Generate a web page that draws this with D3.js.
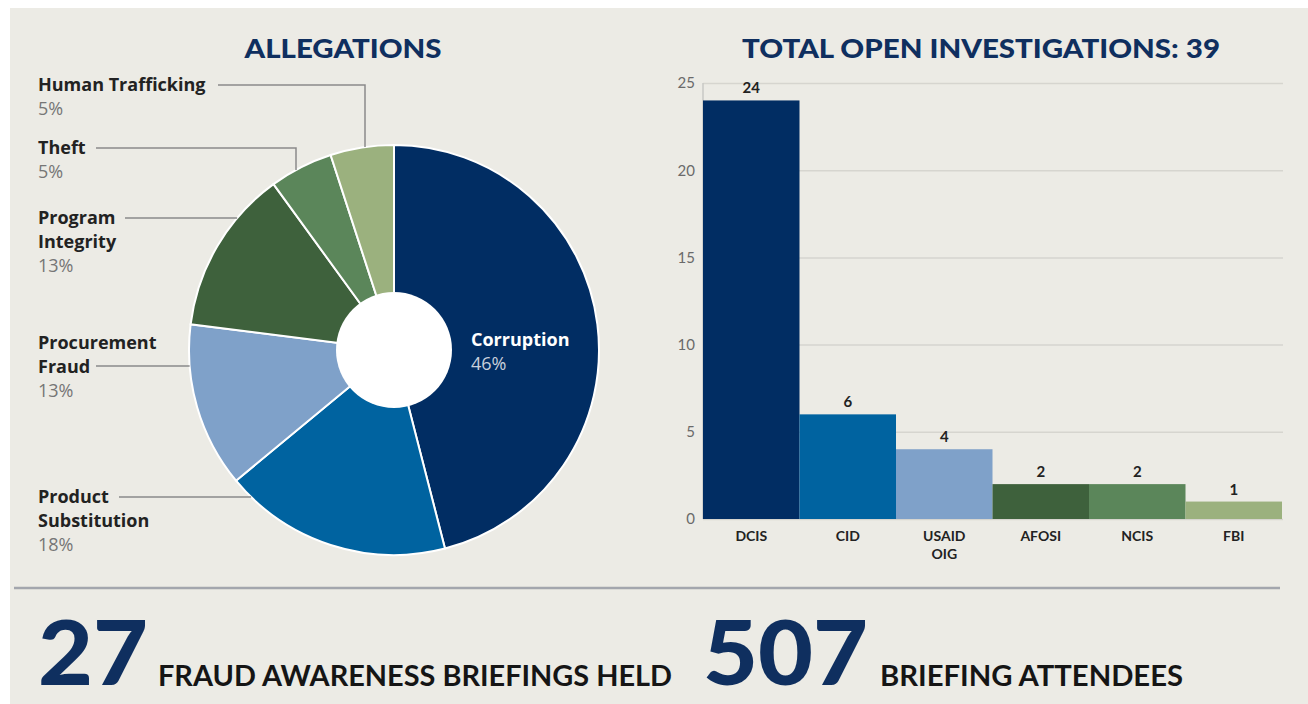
<!DOCTYPE html>
<html>
<head>
  <meta charset="utf-8">
  <script src="https://cdn.jsdelivr.net/npm/d3@7"></script>
  <style>
    body { margin: 0; background: #fff; }
    svg { display: block; }
    text { font-family: Lato, "Open Sans", sans-serif; }
    .lbl { font-family: "Open Sans", Lato, sans-serif; }
  </style>
</head>
<body>
  <svg id="chart" width="1308" height="704"></svg>
  <script>
    // allegations (pie)
    const allegCats = ["Corruption", "Product Substitution", "Procurement Fraud", "Program Integrity", "Theft", "Human Trafficking"]
    const allegPct = [46, 18, 13, 13, 5, 5]
    const allegColors = ["#012d63", "#0063a0", "#7fa1c9", "#3e613c", "#5b865a", "#9bb17e"]

    // open investigations (bars)
    const agencies = ["DCIS", "CID", "USAID OIG", "AFOSI", "NCIS", "FBI"]
    const cases = [24, 6, 4, 2, 2, 1]
    const barColors = ["#012d63", "#0063a0", "#7fa1c9", "#3e613c", "#5b865a", "#9bb17e"]
    const yTicks = [0, 5, 10, 15, 20, 25]

    const briefings = 27
    const attendees = 507

    const navy = "#0f2f5f"
    const svg = d3.select("#chart")

    svg.append("rect")
       .attr("x", 10).attr("y", 8)
       .attr("width", 1298).attr("height", 696)
       .attr("fill", "#ecebe5")

    // ---------- pie ----------
    const cx = 394, cy = 350, R = 205, r0 = 58
    const pie = d3.pie().sort(null).value(d => d)
    const arcs = pie(allegPct)
    const arc = d3.arc().innerRadius(0).outerRadius(R)

    const g = svg.append("g").attr("transform", `translate(${cx},${cy})`)
    g.selectAll("path")
     .data(arcs)
     .join("path")
     .attr("d", arc)
     .attr("fill", (d, i) => allegColors[i])
     .attr("stroke", "#fff")
     .attr("stroke-width", 2)
    g.append("circle").attr("r", r0).attr("fill", "#fff")

    svg.append("text")
       .attr("x", 343).attr("y", 58)
       .attr("text-anchor", "middle")
       .attr("textLength", 197).attr("lengthAdjust", "spacingAndGlyphs")
       .attr("font-size", 27).attr("font-weight", 900)
       .attr("fill", navy)
       .text("ALLEGATIONS")

    // labels for pie: name lines, pct, leader line points
    const labels = [
      { i: 5, lines: ["Human Trafficking"], y: 91, lineFrom: [218, 85], via: [365, 85] },
      { i: 4, lines: ["Theft"], y: 154, lineFrom: [96, 148], via: [296, 148] },
      { i: 3, lines: ["Program", "Integrity"], y: 224, lineFrom: [125, 218], via: null },
      { i: 2, lines: ["Procurement", "Fraud"], y: 349, lineFrom: [96, 366], via: null },
      { i: 1, lines: ["Product", "Substitution"], y: 503, lineFrom: [119, 497], via: null }
    ]

    const lab = svg.append("g")
    labels.forEach(l => {
      const t = lab.append("text").attr("class", "lbl")
                   .attr("x", 38).attr("y", l.y)
                   .attr("font-size", 18)
      l.lines.forEach((s, k) => {
        t.append("tspan").attr("x", 38).attr("dy", k ? 24 : 0)
         .attr("font-weight", 700).attr("fill", "#222").text(s)
      })
      t.append("tspan").attr("x", 38).attr("dy", 24)
       .attr("fill", "#767676").text(allegPct[l.i] + "%")

      // leader line ends on the slice edge
      let pts
      if (l.via) {
        // vertical drop to the outer rim
        const dx = l.via[0] - cx
        const yEnd = cy - Math.sqrt(R * R - dx * dx)
        pts = [l.lineFrom, l.via, [l.via[0], yEnd]]
      } else {
        const dy = l.lineFrom[1] - cy
        const xEnd = cx - Math.sqrt(R * R - dy * dy)
        pts = [l.lineFrom, [xEnd, l.lineFrom[1]]]
      }
      lab.append("path")
         .attr("d", d3.line()(pts))
         .attr("fill", "none")
         .attr("stroke", "#8a8a8a")
         .attr("stroke-width", 1.5)
    })

    const ct = svg.append("text").attr("class", "lbl")
                  .attr("x", 471).attr("y", 346).attr("font-size", 18)
    ct.append("tspan").attr("font-weight", 700).attr("fill", "#fff").text(allegCats[0])
    ct.append("tspan").attr("x", 471).attr("dy", 24).attr("fill", "#c9d0dc").text(allegPct[0] + "%")

    // ---------- bars ----------
    const x = d3.scaleBand().domain(agencies).range([703, 1282]).padding(0)
    const y = d3.scaleLinear().domain([0, 25]).range([519, 83])

    svg.append("text")
       .attr("x", 981).attr("y", 58)
       .attr("text-anchor", "middle")
       .attr("textLength", 478).attr("lengthAdjust", "spacingAndGlyphs")
       .attr("font-size", 27).attr("font-weight", 900)
       .attr("fill", navy)
       .text("TOTAL OPEN INVESTIGATIONS: " + d3.sum(cases))

    const yAxis = svg.append("g")
       .attr("transform", "translate(703,0)")
       .call(d3.axisLeft(y).tickValues(yTicks).tickSize(-580).tickPadding(8))
    yAxis.select(".domain").remove()
    yAxis.selectAll(".tick line").attr("stroke", "#d6d5cf").attr("stroke-width", 1.5)
    yAxis.selectAll(".tick text")
         .attr("font-size", 15).attr("fill", "#6a6a6a")
         .attr("font-family", "Lato, sans-serif")

    svg.append("line")
       .attr("x1", 703).attr("x2", 703)
       .attr("y1", y(25)).attr("y2", y(0))
       .attr("stroke", "#c8c8c4").attr("stroke-width", 1.5)

    svg.append("g").selectAll("rect")
       .data(cases)
       .join("rect")
       .attr("x", (d, i) => x(agencies[i]))
       .attr("y", d => y(d))
       .attr("width", x.bandwidth())
       .attr("height", d => y(0) - y(d))
       .attr("fill", (d, i) => barColors[i])

    svg.append("g").selectAll("text")
       .data(cases)
       .join("text")
       .attr("x", (d, i) => x(agencies[i]) + x.bandwidth() / 2)
       .attr("y", d => y(d) - 7)
       .attr("text-anchor", "middle")
       .attr("font-size", 15).attr("font-weight", 700).attr("fill", "#222")
       .text(d => d)

    const xl = svg.append("g").selectAll("text")
       .data(agencies)
       .join("text")
       .attr("x", d => x(d) + x.bandwidth() / 2)
       .attr("y", 541)
       .attr("text-anchor", "middle")
       .attr("font-size", 14).attr("font-weight", 700).attr("fill", "#222")
    xl.each(function(d) {
      const words = d.split(" ")
      const t = d3.select(this)
      words.forEach((w, k) => {
        t.append("tspan").attr("x", x(d) + x.bandwidth() / 2).attr("dy", k ? 18 : 0).text(w)
      })
    })

    // ---------- footer ----------
    svg.append("line")
       .attr("x1", 14).attr("x2", 1280)
       .attr("y1", 588).attr("y2", 588)
       .attr("stroke", "#a3a6ad").attr("stroke-width", 2.5)

    const big = (txt, x0, w) => svg.append("text")
       .attr("x", x0).attr("y", 685)
       .attr("textLength", w).attr("lengthAdjust", "spacingAndGlyphs")
       .attr("font-size", 90).attr("font-weight", 900).attr("fill", navy)
       .text(txt)
    const small = (txt, x0, w) => svg.append("text")
       .attr("x", x0).attr("y", 686)
       .attr("textLength", w).attr("lengthAdjust", "spacingAndGlyphs")
       .attr("font-size", 29).attr("font-weight", 700).attr("fill", "#151515")
       .text(txt)

    big(String(briefings), 38, 110)
    small("FRAUD AWARENESS BRIEFINGS HELD", 158, 514)
    big(String(attendees), 703, 165)
    small("BRIEFING ATTENDEES", 880, 303)
  </script>
</body>
</html>
